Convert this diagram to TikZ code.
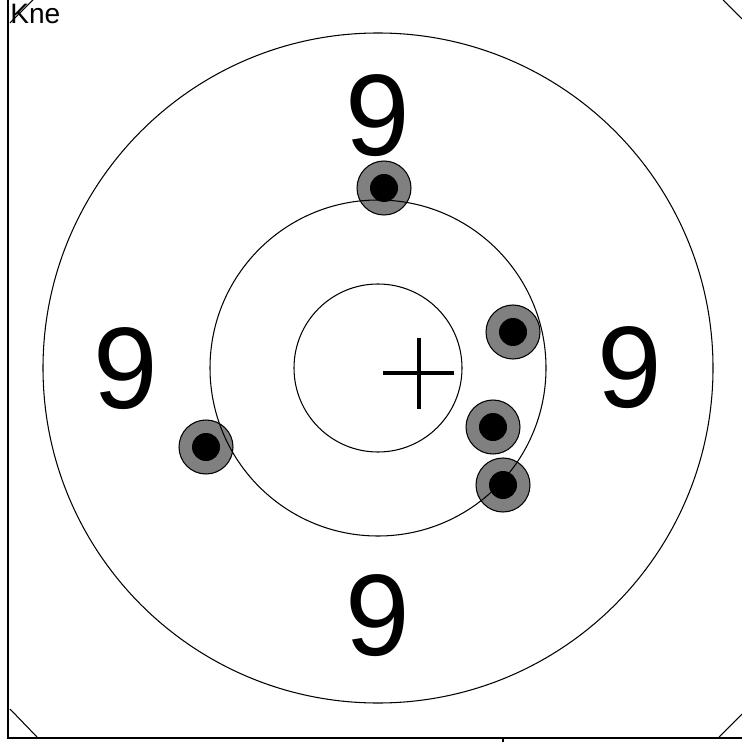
\documentclass[tikz,border=0pt]{standalone}
\usepackage{fontspec}
\setmainfont{Liberation Sans}
\begin{document}
\begin{tikzpicture}[x=0.02cm,y=-0.02cm,
    ring/.style={line width=0.6pt},
    shotring/.style={draw=black,fill=black!50,line width=0.6pt},
    shotcore/.style={fill=black},
    score/.style={font=\fontsize{66}{66}\selectfont,inner sep=0pt}]
    \useasboundingbox (0,0) rectangle (742,742);
    \clip (0,0) rectangle (742,742);
    % cornice
    \draw[ring] (8,0) -- (8,738) -- (742,738);
    \draw[ring] (503,738) -- (503,742);
    \draw[ring] (10,23) -- (33,0);
    \draw[ring] (10,709) -- (37,737);
    \draw[ring] (719,737) -- (742,714);
    \draw[ring] (723,0) -- (742,19);
    \node[anchor=base west,inner sep=0pt,font=\fontsize{16}{16}\selectfont] (label) at (10,24) {Kne};

    % colpi
    \foreach \px/\py [count=\i] in {384/188, 513/332, 493/427, 503/485, 206/447} {
        \fill[shotring] (\px,\py) circle (27);
        \fill[shotcore] (\px,\py) circle (14);
    }

    % anelli
    \coordinate (centre) at (378,368);
    \draw[ring] (centre) circle (335);
    \draw[ring] (centre) circle (168);
    \draw[ring] (centre) circle (84);

    % croce
    \coordinate (mark) at (419,373);
    \draw[line width=2.3pt] ([xshift=-0.72cm]mark) -- ([xshift=0.7cm]mark);
    \draw[line width=2.3pt] ([yshift=0.7cm]mark) -- ([yshift=-0.72cm]mark);

    % punteggi
    \node[score] (top) at (378,116) {9};
    \node[score] (left) at (126,369) {9};
    \node[score] (right) at (630,368) {9};
    \node[score] (bottom) at (378,616) {9};
\end{tikzpicture}
\end{document}
